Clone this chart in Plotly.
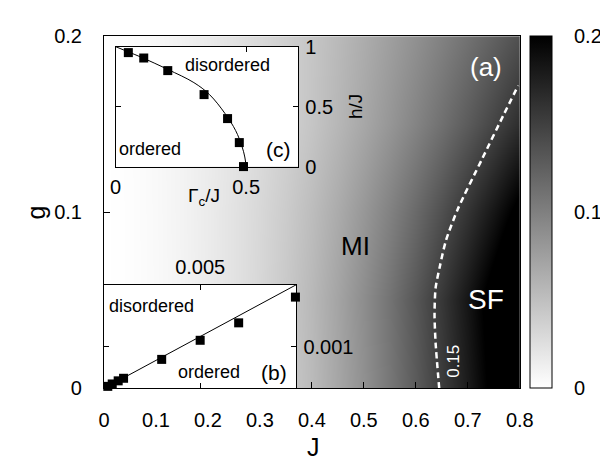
import plotly.graph_objects as go

# ---------------- data ----------------
J_grid = [0.0, 0.05, 0.1, 0.15, 0.2, 0.25, 0.3, 0.35, 0.4, 0.45, 0.5, 0.55, 0.6, 0.65, 0.7, 0.75, 0.8]
g_grid = [0.0, 0.05, 0.1, 0.15, 0.2]
z_g000 = [0.0, 0.0015, 0.0045, 0.0090, 0.0150, 0.0220, 0.0310, 0.0415, 0.054, 0.070, 0.087, 0.107, 0.129, 0.153, 0.179, 0.208, 0.239]
z_g005 = [0.0, 0.0015, 0.0046, 0.0092, 0.0153, 0.0225, 0.0316, 0.0425, 0.0556, 0.0715, 0.0896, 0.110, 0.1324, 0.157, 0.184, 0.213, 0.245]
z_g010 = [0.0, 0.0015, 0.0048, 0.0095, 0.0155, 0.0225, 0.0308, 0.0405, 0.0522, 0.066, 0.0816, 0.0987, 0.1175, 0.1379, 0.160, 0.1835, 0.209]
z_g015 = [0.0, 0.0017, 0.0050, 0.0096, 0.0150, 0.0213, 0.0285, 0.0365, 0.0457, 0.0569, 0.0691, 0.0825, 0.0969, 0.1123, 0.1288, 0.1464, 0.1649]
z_g020 = [0.0, 0.0022, 0.0060, 0.0108, 0.0164, 0.0227, 0.0296, 0.0372, 0.0453, 0.0547, 0.0648, 0.0755, 0.0867, 0.0986, 0.111, 0.1239, 0.1374]

contour_g = [0.0, 0.026, 0.042, 0.057, 0.069, 0.084, 0.102, 0.13, 0.156, 0.172]
contour_J = [0.645, 0.638, 0.636, 0.638, 0.646, 0.658, 0.681, 0.727, 0.770, 0.797]

# inset (c)
c_curve_G = [0.0, 0.05, 0.1, 0.2, 0.3, 0.36, 0.42, 0.46, 0.484, 0.495, 0.5]
c_curve_h = [1.0, 0.955, 0.91, 0.81, 0.70, 0.6, 0.44, 0.3, 0.17, 0.08, 0.0]
c_pts_G = [0.049, 0.108, 0.2, 0.339, 0.429, 0.474, 0.49]
c_pts_h = [0.95, 0.905, 0.80, 0.60, 0.40, 0.20, 0.0]

# inset (b)
b_line_x = [0.0, 0.01]
b_line_y = [0.0, 0.0025]
b_pts_x = [0.0002, 0.00043, 0.00074, 0.00102, 0.003, 0.005, 0.007, 0.00995]
b_pts_y = [0.00005, 0.000108, 0.000183, 0.000245, 0.0007, 0.00116, 0.00158, 0.0022]

main_xticks = [0, 0.1, 0.2, 0.3, 0.4, 0.5, 0.6, 0.7, 0.8]
main_xtext = ["0", "0.1", "0.2", "0.3", "0.4", "0.5", "0.6", "0.7", "0.8"]
main_yticks = [0, 0.1, 0.2]
main_ytext = ["0", "0.1", "0.2"]

# ---------------- layout helpers ----------------
W, H = 608, 460
FONT = "Liberation Sans, Arial, sans-serif"

def px(x):
    return x / W

def py(y):
    return 1 - y / H

fig = go.Figure()

fig.add_trace(go.Heatmap(
    x=J_grid, y=g_grid, z=[z_g000, z_g005, z_g010, z_g015, z_g020],
    zmin=0, zmax=0.2, zsmooth="best",
    colorscale=[[0, "white"], [1, "black"]],
    xaxis="x", yaxis="y", hoverinfo="skip",
    colorbar=dict(
        x=px(534), xanchor="left", xpad=0, ypad=0,
        y=py(203), yanchor="middle",
        len=(388 - 18) / H, lenmode="fraction",
        thickness=22, thicknessmode="pixels",
        outlinecolor="black", outlinewidth=1,
        tickvals=[0, 0.1, 0.2], ticktext=["0", "0.1", "0.2"],
        ticks="outside", ticklen=18, tickcolor="rgba(0,0,0,0)",
        tickfont=dict(size=20, color="black", family=FONT),
    ),
))

fig.add_trace(go.Scatter(
    x=contour_J, y=contour_g, mode="lines",
    line=dict(color="white", width=2.5, dash="6px,4px", shape="spline", smoothing=0.7),
    xaxis="x", yaxis="y", showlegend=False, hoverinfo="skip",
))

# inset (c)
fig.add_trace(go.Scatter(
    x=c_curve_G, y=c_curve_h, mode="lines",
    line=dict(color="black", width=1, shape="spline"),
    xaxis="x2", yaxis="y2", showlegend=False, hoverinfo="skip",
))
fig.add_trace(go.Scatter(
    x=c_pts_G, y=c_pts_h, mode="markers",
    marker=dict(symbol="square", size=9, color="black"),
    xaxis="x2", yaxis="y2", showlegend=False, cliponaxis=False, hoverinfo="skip",
))

# inset (b)
fig.add_trace(go.Scatter(
    x=b_line_x, y=b_line_y, mode="lines",
    line=dict(color="black", width=1),
    xaxis="x3", yaxis="y3", showlegend=False, hoverinfo="skip",
))
fig.add_trace(go.Scatter(
    x=b_pts_x, y=b_pts_y, mode="markers",
    marker=dict(symbol="square", size=9, color="black"),
    xaxis="x3", yaxis="y3", showlegend=False, cliponaxis=False, hoverinfo="skip",
))

axis_common = dict(showgrid=False, zeroline=False, showline=True, linecolor="black",
                   linewidth=1, ticks="inside", tickcolor="black", tickwidth=1,
                   tickfont=dict(size=20, color="black", family=FONT))

fig.update_layout(
    width=W, height=H,
    margin=dict(l=0, r=0, t=0, b=0),
    paper_bgcolor="white", plot_bgcolor="white",
    font=dict(family=FONT, color="black"),
    showlegend=False,
    xaxis=dict(domain=[px(93), px(523)], range=[0, 0.8], tickvals=main_xticks, ticktext=main_xtext,
               ticklen=6, mirror=True, anchor="y", ticklabelstandoff=14, **axis_common),
    yaxis=dict(domain=[py(388), py(18)], range=[0, 0.2], tickvals=main_yticks, ticktext=main_ytext,
               ticklen=6, mirror=True, anchor="x", ticklabelstandoff=17, **axis_common),
    xaxis2=dict(domain=[px(105), px(294)], range=[0, 0.7], tickvals=[0, 0.5], ticktext=["0", "0.5"],
                ticklen=5, mirror="ticks", anchor="y2", ticklabelstandoff=2, **axis_common),
    yaxis2=dict(domain=[py(155), py(29)], range=[0, 1], tickvals=[0, 0.5, 1], ticktext=["0", "0.5", "1"],
                ticklen=5, mirror="ticks", anchor="x2", side="right", ticklabelstandoff=2, **axis_common),
    xaxis3=dict(domain=[px(93), px(292)], range=[0, 0.01], tickvals=[0.005], ticktext=["0.005"],
                ticklen=5, mirror="ticks", anchor="y3", side="top", ticklabelstandoff=2, **axis_common),
    yaxis3=dict(domain=[py(388), py(279)], range=[0, 0.0025], tickvals=[0.001], ticktext=["0.001"],
                ticklen=5, mirror="ticks", anchor="x3", side="right", ticklabelstandoff=2, **axis_common),
)

def ann(text, x, y, size, color="black", angle=0):
    fig.add_annotation(text=text, x=px(x), y=py(y), xref="paper", yref="paper",
                       xanchor="center", yanchor="middle", showarrow=False,
                       textangle=angle, font=dict(size=size, color=color, family=FONT))

ann("(a)", 488, 50, 26, "white")
ann("MI", 353, 238, 26)
ann("SF", 488, 295, 28, "white")
ann("0.15", 455, 360, 17, "white", -90)
ann("disordered", 221, 48, 18)
ann("ordered", 141, 137, 18)
ann("(c)", 273, 137, 21)
ann("disordered", 142, 301, 18)
ann("ordered", 202, 371, 18)
ann("(b)", 269, 371, 21)
ann("Γ<sub>c</sub>/J", 196, 187, 19)
ann("h/J", 353, 92, 19, "black", -90)
ann("J", 310, 450, 25)
ann("g", 23, 203, 25, "black", -90)

fig.write_html("out.html")
